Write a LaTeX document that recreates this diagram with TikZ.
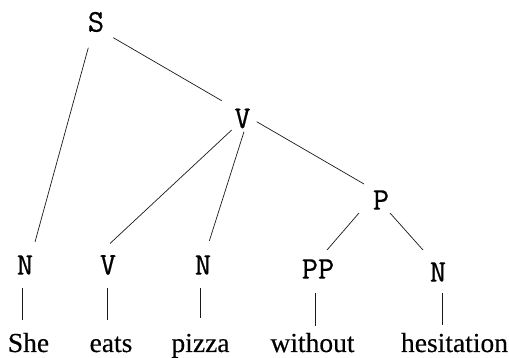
\documentclass[tikz,border=0pt]{standalone}
\usepackage{fontspec}
\setmainfont{Liberation Serif}[FakeBold=0.35]
\setmonofont{Latin Modern Mono}[FakeBold=0.6]
\begin{document}
\begin{tikzpicture}[x=1pt,y=-1pt,
  lab/.style={inner sep=0pt,font=\fontsize{31.5}{31.5}\selectfont\ttfamily},
  word/.style={inner sep=0pt,anchor=base,font=\fontsize{27.5}{27.5}\selectfont},
  edge/.style={line width=0.7pt,black!90}]
\useasboundingbox (0,0) rectangle (509,358);
% labels
\node[lab] (S)  at (96,22)    {S};
\node[lab] (V1) at (242.5,118.5) {V};
\node[lab] (P)  at (381,200)  {P};
\node[lab] (N1) at (25,265)   {N};
\node[lab] (V2) at (108,265)  {V};
\node[lab] (N2) at (203,265)  {N};
\node[lab] (PP) at (318,269)  {PP};
\node[lab] (N3) at (438,272)  {N};
% words
\node[word] (w1) at (28.5,352)  {She};
\node[word] (w2) at (111,352)   {eats};
\node[word] (w3) at (200.5,352) {pizza};
\node[word] (w4) at (312.5,352) {without};
\node[word] (w5) at (454.5,352) {hesitation};
% tree edges
\draw[edge] ([shift={(-7.7,25.7)}]S.center) -- ([shift={(10,-23)}]N1.center);
\draw[edge] ([shift={(17.3,15.7)}]S.center) -- ([shift={(-20.8,-17.8)}]V1.center);
\draw[edge] ([shift={(-10.8,11.5)}]V1.center) -- ([shift={(2,-21.5)}]V2.center);
\draw[edge] ([shift={(1.5,13.2)}]V1.center) -- ([shift={(6.3,-24)}]N2.center);
\draw[edge] ([shift={(14.2,3.2)}]V1.center) -- ([shift={(-17,-16)}]P.center);
\draw[edge] ([shift={(-22,13)}]P.center) -- ([shift={(9,-19)}]PP.center);
\draw[edge] ([shift={(9,13)}]P.center) -- ([shift={(-15,-22)}]N3.center);
% leaf edges
\draw[edge] ([shift={(-2.3,23)}]N1.center) -- ([shift={(-5.8,-32)}]w1.base);
\draw[edge] ([shift={(-0.3,23)}]V2.center) -- ([shift={(-3.3,-32)}]w2.base);
\draw[edge] ([shift={(-3,23)}]N2.center) -- ([shift={(-0.5,-34)}]w3.base);
\draw[edge] ([shift={(-2.3,24)}]PP.center) -- ([shift={(3.2,-26)}]w4.base);
\draw[edge] ([shift={(4.7,21)}]N3.center) -- ([shift={(-11.8,-27)}]w5.base);
\end{tikzpicture}
\end{document}
